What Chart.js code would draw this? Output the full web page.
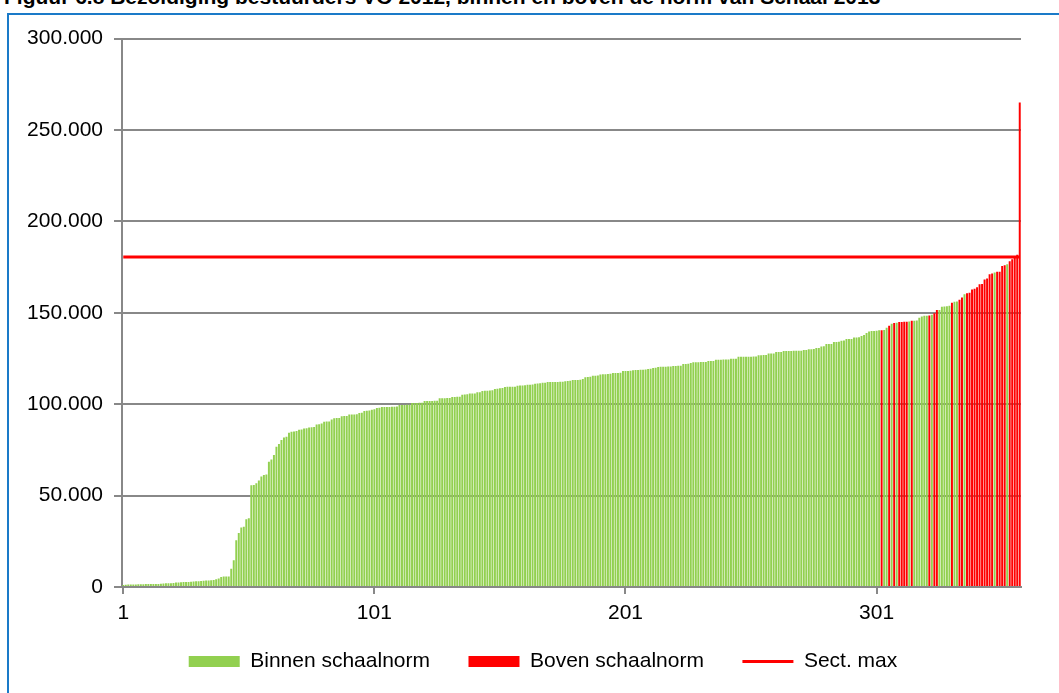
<!DOCTYPE html>
<html>
<head>
<meta charset="utf-8">
<script src="https://cdn.jsdelivr.net/npm/chart.js@4"></script>
<style>
  body { margin: 0; background: #fff; overflow: hidden; }
  #titel { position: absolute; left: 4px; top: -15px; white-space: nowrap;
           font: bold 21px 'Liberation Sans', Arial, sans-serif; color: #000; }
  #kader { position: absolute; left: 7px; top: 13px; width: 1060px; height: 700px;
           border: 2px solid #1a7ac8; }
  #wrap { position: absolute; left: 9px; top: 15px; width: 1050px; height: 678px; }
</style>
</head>
<body>
<div id="titel">Figuur 6.8 Bezoldiging bestuurders VO 2012, binnen en boven de norm van Schaal 2013</div>
<div id="kader"></div>
<div id="wrap"><canvas id="grafiek"></canvas></div>
<script>
// bezoldiging per bestuurder, oplopend gesorteerd (euro)
const waarden = [
  1100, 1200, 1300, 1300, 1400, 1400, 1500, 1500, 1500, 1600,
  1600, 1600, 1700, 1700, 1700, 1800, 1900, 2000, 2000, 2100,
  2200, 2400, 2500, 2600, 2700, 2700, 2800, 2900, 3000, 3100,
  3200, 3300, 3400, 3500, 3600, 3700, 3800, 4200, 4600, 5500,
  5700, 5700, 5800, 10000, 14700, 25600, 29600, 32500, 33000, 37000,
  37600, 55600, 55800, 56700, 58200, 60400, 61300, 61600, 68500, 69800,
  72200, 76700, 78200, 80400, 81800, 82200, 84400, 84900, 85100, 85400,
  86000, 86200, 86700, 86800, 87300, 87400, 87500, 88900, 89000, 89500,
  90400, 90500, 90600, 91600, 92300, 92400, 92500, 93400, 93500, 93600,
  94300, 94400, 94400, 94500, 95200, 95300, 96300, 96400, 96500, 97000,
  97200, 97900, 98000, 98400, 98500, 98500, 98500, 98600, 98600, 98700,
  99500, 99600, 99600, 99700, 99700, 100600, 100700, 100700, 100800, 100800,
  101700, 101800, 101800, 101800, 101900, 101900, 103200, 103300, 103300, 103400,
  103400, 103900, 104000, 104100, 104100, 105200, 105300, 105400, 105800, 105800,
  105900, 106500, 106600, 107200, 107300, 107400, 107500, 107600, 108300, 108400,
  108700, 108800, 109400, 109500, 109500, 109600, 109600, 110100, 110200, 110200,
  110300, 110700, 110700, 110800, 111200, 111300, 111400, 111800, 111800, 112100,
  112200, 112200, 112200, 112200, 112300, 112300, 112600, 112700, 112800, 113200,
  113300, 113300, 113400, 113800, 114800, 114900, 115000, 115500, 115600, 115700,
  116300, 116400, 116400, 116500, 116700, 117000, 117100, 117100, 117200, 118100,
  118200, 118200, 118300, 118600, 118700, 118700, 118800, 118900, 119000, 119300,
  119400, 119800, 119900, 120400, 120500, 120500, 120500, 120600, 120600, 120900,
  120900, 121000, 121100, 122000, 122000, 122100, 122600, 123000, 123000, 123000,
  123100, 123100, 123100, 123600, 123600, 123700, 124300, 124300, 124300, 124400,
  124400, 124400, 124800, 124800, 124900, 125900, 125900, 125900, 126000, 126000,
  126000, 126100, 126100, 126800, 126800, 126900, 126900, 127700, 127700, 127800,
  128500, 128500, 128600, 129100, 129100, 129100, 129100, 129200, 129200, 129200,
  129200, 129600, 129700, 130100, 130100, 130200, 130700, 130800, 131600, 131700,
  132900, 133000, 133000, 134000, 134000, 134100, 134700, 134800, 135600, 135600,
  135700, 136500, 136500, 136600, 137300, 137900, 139000, 139800, 140000, 140100,
  140200, 140400, 140500, 140600, 141800, 142900, 144000, 144400, 144500, 144900,
  144900, 145100, 145100, 145200, 145600, 145700, 145800, 147300, 148000, 148400,
  148400, 148500, 148900, 149800, 151500, 151600, 153300, 153500, 153600, 153800,
  155500, 156000, 156200, 157100, 158400, 160200, 160700, 160900, 162700, 163100,
  164000, 165600, 165800, 168200, 168700, 171100, 171500, 172000, 172400, 172500,
  175600, 176000, 176500, 178200, 179300, 180000, 181800, 265000
];

// volgnummers van bestuurders boven de schaalnorm
const bovenNorm = [
  303, 306, 308, 310, 311, 312, 313, 315, 322, 324, 325, 331, 334, 335,
  337, 338, 339, 340, 341, 342, 343, 344, 345, 346, 347, 349, 350, 351,
  352, 354, 355, 356, 357, 358
];

const sectMax = 180500;
const xTicks = ['1', '101', '201', '301'];
const yTicks = [0, 50000, 100000, 150000, 200000, 250000, 300000];

const labels = waarden.map((v, i) => String(i + 1));
const binnen = waarden.map((v, i) => bovenNorm.includes(i + 1) ? null : v);
const boven = waarden.map((v, i) => bovenNorm.includes(i + 1) ? v : null);
const maxLijn = waarden.map(() => sectMax);

const fmt = v => String(v).replace(/\B(?=(\d{3})+(?!\d))/g, '.');
const font = { family: "'Liberation Sans', Arial, sans-serif", size: 21 };
const grijs = '#888888';
const groen = '#92d050';
const rood = '#ff0000';

new Chart(document.getElementById('grafiek'), {
  data: {
    labels: labels,
    datasets: [
      {
        type: 'bar', label: 'Binnen schaalnorm', data: binnen,
        backgroundColor: groen, grouped: false,
        barPercentage: 1, categoryPercentage: 0.78, order: 2
      },
      {
        type: 'bar', label: 'Boven schaalnorm', data: boven,
        backgroundColor: rood, grouped: false,
        barPercentage: 1, categoryPercentage: 0.78, order: 2
      },
      {
        type: 'line', label: 'Sect. max', data: maxLijn,
        borderColor: rood, borderWidth: 3, pointRadius: 0, order: 1
      }
    ]
  },
  options: {
    responsive: true,
    maintainAspectRatio: false,
    animation: false,
    layout: { padding: { left: 18, right: 0, top: 22, bottom: 11 } },
    plugins: {
      tooltip: { enabled: false },
      legend: {
        position: 'bottom',
        labels: {
          font: font, color: '#000', padding: 28,
          usePointStyle: true, pointStyleWidth: 51, boxHeight: 11,
          // en-spatie achter de tekst geeft wat meer ruimte tussen de items
          generateLabels: chart => [
            { text: 'Binnen schaalnorm\u2002', fillStyle: groen, strokeStyle: groen, lineWidth: 0, pointStyle: 'rect', datasetIndex: 0 },
            { text: 'Boven schaalnorm\u2002', fillStyle: rood, strokeStyle: rood, lineWidth: 0, pointStyle: 'rect', datasetIndex: 1 },
            { text: 'Sect. max', fillStyle: rood, strokeStyle: rood, lineWidth: 3, pointStyle: 'line', datasetIndex: 2 }
          ]
        }
      }
    },
    scales: {
      x: {
        type: 'category',
        afterBuildTicks: s => { s.ticks = s.ticks.filter(t => xTicks.includes(labels[t.value])); },
        afterFit: s => { s.height = 36; },
        grid: { offset: false, drawOnChartArea: false, tickLength: 7, color: grijs, lineWidth: 2 },
        border: { color: grijs, width: 2 },
        ticks: { autoSkip: false, maxRotation: 0, font: font, color: '#000', padding: 7 }
      },
      y: {
        min: 0, max: 300000,
        afterBuildTicks: s => { s.ticks = yTicks.map(v => ({ value: v })); },
        afterFit: s => { s.width = 95; },
        grid: { color: grijs, lineWidth: 2, tickLength: 8 },
        border: { color: grijs, width: 2 },
        ticks: { font: font, color: '#000', padding: 11, callback: v => fmt(v) }
      },
      // lege ruimte rechts van het plotgebied
      rechts: {
        position: 'right', display: true,
        afterFit: s => { s.width = 38; },
        grid: { display: false }, border: { display: false }, ticks: { display: false }
      }
    }
  }
});
</script>
</body>
</html>
